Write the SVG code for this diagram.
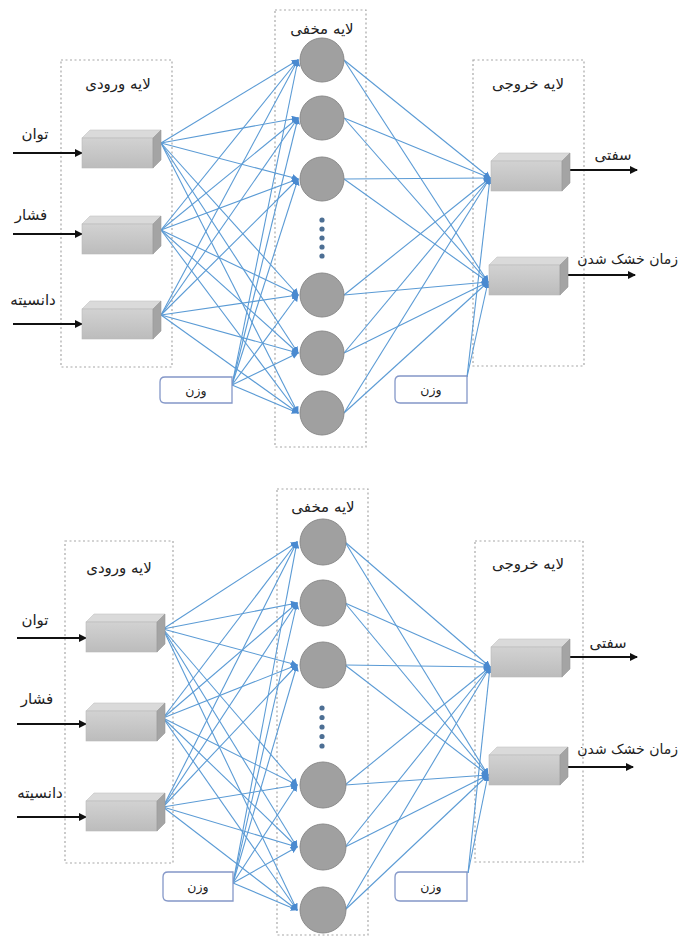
<svg xmlns="http://www.w3.org/2000/svg" xmlns:xlink="http://www.w3.org/1999/xlink" width="680" height="943" viewBox="0 0 680 943">
<style>
.frame{fill:none;stroke:#a8a8a8;stroke-width:1.2;stroke-dasharray:2 2.5}
.lbl{font-family:"DejaVu Sans",sans-serif;font-size:15px;fill:#222;text-anchor:middle}
.lr{font-family:"DejaVu Sans",sans-serif;font-size:14px;fill:#222;text-anchor:end}
.wl{font-family:"DejaVu Sans",sans-serif;font-size:12.5px;fill:#222;text-anchor:middle}
.c{stroke:#5b9bd5;stroke-width:1.1;fill:none;marker-end:url(#ab)}
.io{stroke:#111;stroke-width:2;fill:none;marker-end:url(#ak)}
.neuron{fill:#a0a0a0;stroke:#8a8a8a;stroke-width:1}
.dot{fill:#4d6f94}
.wbox{fill:#fff;stroke:#8497c8;stroke-width:1.3}
</style>
<defs>
<marker id="ab" viewBox="0 0 8 8" refX="7" refY="4" markerWidth="7" markerHeight="7" markerUnits="userSpaceOnUse" orient="auto"><path d="M0,0 L8,4 L0,8 z" fill="#4a8ad0"/></marker>
<marker id="ak" viewBox="0 0 8 8" refX="7" refY="4" markerWidth="8" markerHeight="8" markerUnits="userSpaceOnUse" orient="auto"><path d="M0,0 L8,4 L0,8 z" fill="#111"/></marker>
<linearGradient id="gf" x1="0" y1="0" x2="0" y2="1"><stop offset="0" stop-color="#d2d2d2"/><stop offset="1" stop-color="#bcbcbc"/></linearGradient>
<g id="cube">
<polygon points="0,8 8,0 79,0 71,8" fill="#dadada" stroke="#c4c4c4" stroke-width="0.6"/>
<rect x="0" y="8" width="71" height="30" fill="url(#gf)" stroke="#b8b8b8" stroke-width="0.6"/>
<polygon points="71,8 79,0 79,30 71,38" fill="#a4a4a4" stroke="#999" stroke-width="0.6"/>
</g>
</defs>
<rect width="680" height="943" fill="#fff"/>

<!-- ===== TOP DIAGRAM ===== -->
<g id="top-frames">
<rect class="frame" x="61" y="60" width="111" height="307"/>
<rect class="frame" x="275" y="10" width="91" height="437"/>
<rect class="frame" x="473" y="60" width="111" height="306"/>
<text class="lbl" x="118" y="89">لایه ورودی</text>
<text class="lbl" x="322" y="34">لایه مخفی</text>
<text class="lbl" x="528" y="89">لایه خروجی</text>
</g>

<g id="top-connectors">
<line class="c" x1="161" y1="143" x2="298" y2="60"/>
<line class="c" x1="161" y1="143" x2="298" y2="118"/>
<line class="c" x1="161" y1="143" x2="298" y2="179"/>
<line class="c" x1="161" y1="143" x2="298" y2="295"/>
<line class="c" x1="161" y1="143" x2="298" y2="353"/>
<line class="c" x1="161" y1="143" x2="298" y2="413"/>
<line class="c" x1="161" y1="230" x2="298" y2="60"/>
<line class="c" x1="161" y1="230" x2="298" y2="118"/>
<line class="c" x1="161" y1="230" x2="298" y2="179"/>
<line class="c" x1="161" y1="230" x2="298" y2="295"/>
<line class="c" x1="161" y1="230" x2="298" y2="353"/>
<line class="c" x1="161" y1="230" x2="298" y2="413"/>
<line class="c" x1="161" y1="315" x2="298" y2="60"/>
<line class="c" x1="161" y1="315" x2="298" y2="118"/>
<line class="c" x1="161" y1="315" x2="298" y2="179"/>
<line class="c" x1="161" y1="315" x2="298" y2="295"/>
<line class="c" x1="161" y1="315" x2="298" y2="353"/>
<line class="c" x1="161" y1="315" x2="298" y2="413"/>
<line class="c" x1="232" y1="385" x2="298" y2="60"/>
<line class="c" x1="232" y1="385" x2="298" y2="118"/>
<line class="c" x1="232" y1="385" x2="298" y2="179"/>
<line class="c" x1="232" y1="385" x2="298" y2="295"/>
<line class="c" x1="232" y1="385" x2="298" y2="353"/>
<line class="c" x1="232" y1="385" x2="298" y2="413"/>
<line class="c" x1="344" y1="60" x2="490" y2="178"/>
<line class="c" x1="344" y1="60" x2="488" y2="282"/>
<line class="c" x1="344" y1="118" x2="490" y2="178"/>
<line class="c" x1="344" y1="118" x2="488" y2="282"/>
<line class="c" x1="344" y1="179" x2="490" y2="178"/>
<line class="c" x1="344" y1="179" x2="488" y2="282"/>
<line class="c" x1="344" y1="295" x2="490" y2="178"/>
<line class="c" x1="344" y1="295" x2="488" y2="282"/>
<line class="c" x1="344" y1="353" x2="490" y2="178"/>
<line class="c" x1="344" y1="353" x2="488" y2="282"/>
<line class="c" x1="344" y1="413" x2="490" y2="178"/>
<line class="c" x1="344" y1="413" x2="488" y2="282"/>
<line class="c" x1="467" y1="377" x2="490" y2="178"/>
<line class="c" x1="467" y1="377" x2="488" y2="282"/>
<line class="io" x1="13" y1="153" x2="82" y2="153"/>
<line class="io" x1="13" y1="234" x2="82" y2="234"/>
<line class="io" x1="13" y1="324" x2="82" y2="324"/>
<line class="io" x1="570" y1="170" x2="637" y2="170"/>
<line class="io" x1="568" y1="275" x2="635" y2="275"/>
</g>

<g id="top-in1"><use xlink:href="#cube" x="82" y="130"/><text class="lbl" x="35" y="139">توان</text></g>
<g id="top-in2"><use xlink:href="#cube" x="82" y="216"/><text class="lbl" x="31" y="220">فشار</text></g>
<g id="top-in3"><use xlink:href="#cube" x="82" y="301"/><text class="lbl" x="33" y="305">دانسیته</text></g>

<g id="top-h1"><circle class="neuron" cx="322" cy="60" r="22"/></g>
<g id="top-h2"><circle class="neuron" cx="322" cy="118" r="22"/></g>
<g id="top-h3"><circle class="neuron" cx="322" cy="179" r="22"/></g>
<g id="top-dots">
<circle class="dot" cx="322" cy="220" r="2.6"/><circle class="dot" cx="322" cy="229" r="2.6"/><circle class="dot" cx="322" cy="238" r="2.6"/><circle class="dot" cx="322" cy="247" r="2.6"/><circle class="dot" cx="322" cy="256" r="2.6"/>
</g>
<g id="top-h4"><circle class="neuron" cx="322" cy="295" r="22"/></g>
<g id="top-h5"><circle class="neuron" cx="322" cy="353" r="22"/></g>
<g id="top-h6"><circle class="neuron" cx="322" cy="413" r="22"/></g>

<g id="top-out1"><use xlink:href="#cube" x="491" y="153"/><text class="lbl" x="613" y="160">سفتی</text></g>
<g id="top-out2"><use xlink:href="#cube" x="489" y="257"/><text class="lr" x="678" y="264">زمان خشک شدن</text></g>

<g id="top-w1"><path class="wbox" d="M165,377 H232 V403 H165 Q160,403 160,398 V382 Q160,377 165,377 Z"/><text class="wl" x="196" y="395">وزن</text></g>
<g id="top-w2"><path class="wbox" d="M400,376 H467 V403 H400 Q395,403 395,398 V381 Q395,376 400,376 Z"/><text class="wl" x="431" y="394">وزن</text></g>

<!-- ===== BOTTOM DIAGRAM ===== -->
<g id="bot-frames">
<rect class="frame" x="65" y="541" width="108" height="322"/>
<rect class="frame" x="277" y="489" width="91" height="446"/>
<rect class="frame" x="475" y="541" width="108" height="321"/>
<text class="lbl" x="119" y="573">لایه ورودی</text>
<text class="lbl" x="323" y="512">لایه مخفی</text>
<text class="lbl" x="528" y="569">لایه خروجی</text>
</g>

<g id="bot-connectors">
<line class="c" x1="163" y1="629" x2="297" y2="542"/>
<line class="c" x1="163" y1="629" x2="297" y2="603"/>
<line class="c" x1="163" y1="629" x2="297" y2="665"/>
<line class="c" x1="163" y1="629" x2="297" y2="785"/>
<line class="c" x1="163" y1="629" x2="297" y2="847"/>
<line class="c" x1="163" y1="629" x2="297" y2="910"/>
<line class="c" x1="163" y1="718" x2="297" y2="542"/>
<line class="c" x1="163" y1="718" x2="297" y2="603"/>
<line class="c" x1="163" y1="718" x2="297" y2="665"/>
<line class="c" x1="163" y1="718" x2="297" y2="785"/>
<line class="c" x1="163" y1="718" x2="297" y2="847"/>
<line class="c" x1="163" y1="718" x2="297" y2="910"/>
<line class="c" x1="163" y1="807" x2="297" y2="542"/>
<line class="c" x1="163" y1="807" x2="297" y2="603"/>
<line class="c" x1="163" y1="807" x2="297" y2="665"/>
<line class="c" x1="163" y1="807" x2="297" y2="785"/>
<line class="c" x1="163" y1="807" x2="297" y2="847"/>
<line class="c" x1="163" y1="807" x2="297" y2="910"/>
<line class="c" x1="233" y1="883" x2="297" y2="542"/>
<line class="c" x1="233" y1="883" x2="297" y2="603"/>
<line class="c" x1="233" y1="883" x2="297" y2="665"/>
<line class="c" x1="233" y1="883" x2="297" y2="785"/>
<line class="c" x1="233" y1="883" x2="297" y2="847"/>
<line class="c" x1="233" y1="883" x2="297" y2="910"/>
<line class="c" x1="345" y1="542" x2="490" y2="667"/>
<line class="c" x1="345" y1="542" x2="488" y2="775"/>
<line class="c" x1="345" y1="603" x2="490" y2="667"/>
<line class="c" x1="345" y1="603" x2="488" y2="775"/>
<line class="c" x1="345" y1="665" x2="490" y2="667"/>
<line class="c" x1="345" y1="665" x2="488" y2="775"/>
<line class="c" x1="345" y1="785" x2="490" y2="667"/>
<line class="c" x1="345" y1="785" x2="488" y2="775"/>
<line class="c" x1="345" y1="847" x2="490" y2="667"/>
<line class="c" x1="345" y1="847" x2="488" y2="775"/>
<line class="c" x1="345" y1="910" x2="490" y2="667"/>
<line class="c" x1="345" y1="910" x2="488" y2="775"/>
<line class="c" x1="468" y1="873" x2="490" y2="667"/>
<line class="c" x1="468" y1="873" x2="488" y2="775"/>
<line class="io" x1="17" y1="638" x2="86" y2="638"/>
<line class="io" x1="17" y1="724" x2="86" y2="724"/>
<line class="io" x1="17" y1="817" x2="86" y2="817"/>
<line class="io" x1="570" y1="657" x2="637" y2="657"/>
<line class="io" x1="568" y1="767" x2="633" y2="767"/>
</g>

<g id="bot-in1"><use xlink:href="#cube" x="86" y="614"/><text class="lbl" x="35" y="625">توان</text></g>
<g id="bot-in2"><use xlink:href="#cube" x="86" y="703"/><text class="lbl" x="37" y="704">فشار</text></g>
<g id="bot-in3"><use xlink:href="#cube" x="86" y="793"/><text class="lbl" x="40" y="798">دانسیته</text></g>

<g id="bot-h1"><circle class="neuron" cx="323" cy="542" r="23"/></g>
<g id="bot-h2"><circle class="neuron" cx="323" cy="603" r="23"/></g>
<g id="bot-h3"><circle class="neuron" cx="323" cy="665" r="23"/></g>
<g id="bot-dots">
<circle class="dot" cx="322" cy="708" r="2.6"/><circle class="dot" cx="322" cy="717.5" r="2.6"/><circle class="dot" cx="322" cy="727" r="2.6"/><circle class="dot" cx="322" cy="736.5" r="2.6"/><circle class="dot" cx="322" cy="746" r="2.6"/>
</g>
<g id="bot-h4"><circle class="neuron" cx="323" cy="785" r="23"/></g>
<g id="bot-h5"><circle class="neuron" cx="323" cy="847" r="23"/></g>
<g id="bot-h6"><circle class="neuron" cx="323" cy="910" r="23"/></g>

<g id="bot-out1"><use xlink:href="#cube" x="491" y="639"/><text class="lbl" x="608" y="648">سفتی</text></g>
<g id="bot-out2"><use xlink:href="#cube" x="489" y="747"/><text class="lr" x="678" y="754">زمان خشک شدن</text></g>

<g id="bot-w1"><path class="wbox" d="M168,872 H233 V901 H168 Q163,901 163,896 V877 Q163,872 168,872 Z"/><text class="wl" x="198" y="891">وزن</text></g>
<g id="bot-w2"><path class="wbox" d="M400,872 H467 V901 H400 Q395,901 395,896 V877 Q395,872 400,872 Z"/><text class="wl" x="431" y="891">وزن</text></g>
</svg>
